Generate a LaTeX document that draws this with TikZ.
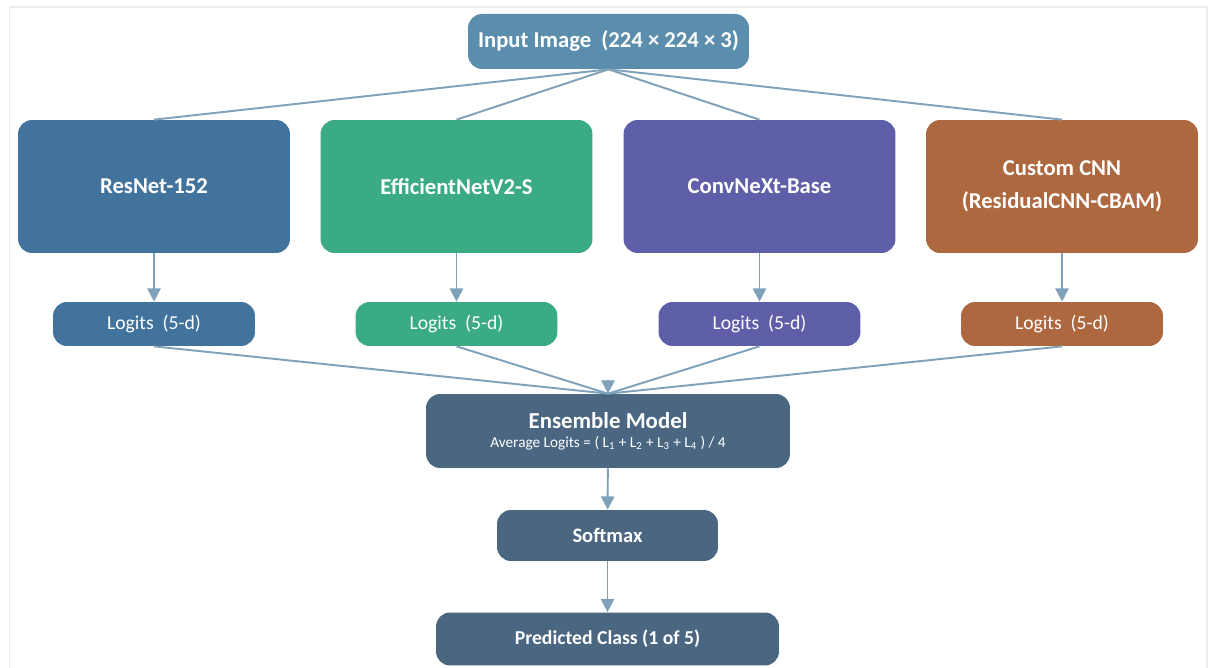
\documentclass[tikz,border=0pt]{standalone}
\usepackage{fontspec}
\setmainfont{Carlito}
\usetikzlibrary{arrows.meta}
\definecolor{inputblue}{HTML}{5B8DAD}
\definecolor{resblue}{HTML}{41739C}
\definecolor{effgreen}{HTML}{3BAB84}
\definecolor{convpurple}{HTML}{5F5FA9}
\definecolor{custombrown}{HTML}{AD6840}
\definecolor{ensslate}{HTML}{4A6681}
\definecolor{linkblue}{HTML}{7DA2B9}
\begin{document}
\begin{tikzpicture}[x=0.02cm, y=-0.02cm,
  box/.style={rounded corners=0.28cm, text=white, align=center, inner sep=0pt},
  model/.style={box, minimum width=5.44cm, minimum height=2.66cm, font=\fontsize{12.9}{18.5}\selectfont\bfseries},
  logit/.style={box, minimum width=4.04cm, minimum height=0.88cm, font=\fontsize{11.2}{14}\selectfont},
  link/.style={linkblue, line width=1.1pt},
  flow/.style={link, -{Triangle[width=7.5pt, length=7.5pt]}}]
\useasboundingbox (0,0) rectangle (1214,668);
% frame
\draw[gray!15, line width=0.6pt] (9.5,668) -- (9.5,7) -- (1207,7) -- (1207,668);
% input
\node[box, fill=inputblue, minimum width=5.62cm, minimum height=1.1cm, font=\fontsize{12.9}{16}\selectfont\bfseries] (input) at (608.5,41.5) {Input Image~ (224 × 224 × 3)};
% four networks
\node[model, fill=resblue] (resnet) at (154,186.5) {ResNet-152};
\node[model, fill=effgreen] (effnet) at (456.5,186.5) {EfficientNetV2-S};
\node[model, fill=convpurple] (convnext) at (759.5,186.5) {ConvNeXt-Base};
\node[model, fill=custombrown] (custom) at (1062,186.5) {Custom CNN\\(ResidualCNN-CBAM)};
% logits
\node[logit, fill=resblue] (logres) at (154,324) {Logits~ (5-d)};
\node[logit, fill=effgreen] (logeff) at (456.5,324) {Logits~ (5-d)};
\node[logit, fill=convpurple] (logconv) at (759.5,324) {Logits~ (5-d)};
\node[logit, fill=custombrown] (logcust) at (1062,324) {Logits~ (5-d)};
% ensemble and output
\node[box, fill=ensslate, minimum width=7.28cm, minimum height=1.48cm] (ensemble) at (608,431)
  {{\fontsize{13}{16}\selectfont\bfseries Ensemble Model}\\[-1pt]
   {\fontsize{8.7}{11}\selectfont Average Logits = ( L\textsubscript{1} + L\textsubscript{2} + L\textsubscript{3} + L\textsubscript{4} ) / 4}};
\node[box, fill=ensslate, minimum width=4.42cm, minimum height=1.02cm, font=\fontsize{11.7}{15}\selectfont\bfseries] (softmax) at (607.5,535.5) {Softmax};
\node[box, fill=ensslate, minimum width=6.86cm, minimum height=1.06cm, font=\fontsize{11.2}{14}\selectfont\bfseries] (predicted) at (607.5,639) {Predicted Class (1 of 5)};
\coordinate (merge) at (608,380);
% links
\foreach \m in {resnet,effnet,convnext,custom}
  \draw[link] (input.south) -- (\m.north);
\draw[flow] (resnet) -- (logres);
\draw[flow] (effnet) -- (logeff);
\draw[flow] (convnext) -- (logconv);
\draw[flow] (custom) -- (logcust);
\foreach \l in {logres,logeff,logconv,logcust}
  \draw[link] (\l.south) -- (ensemble.north);
\draw[flow] (merge) -- (ensemble.north);
\draw[flow] (ensemble) -- (softmax);
\draw[flow] (softmax) -- (predicted);
\end{tikzpicture}
\end{document}
